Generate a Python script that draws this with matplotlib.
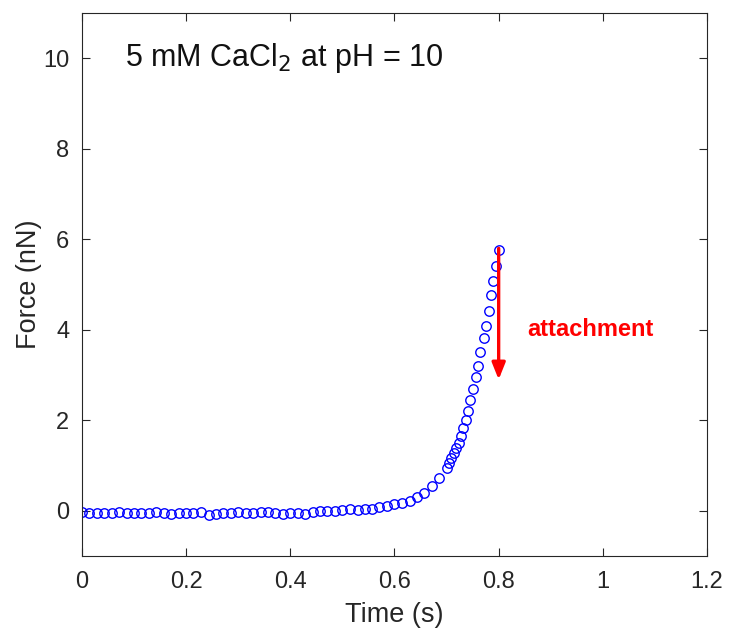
import matplotlib
matplotlib.use('Agg')
import matplotlib.pyplot as plt

plt.rcParams['font.family'] = ['Liberation Sans', 'DejaVu Sans']

# data
time_s = [0.000, 0.014, 0.029, 0.043, 0.057, 0.071, 0.086, 0.100, 0.114, 0.129,
          0.143, 0.157, 0.171, 0.186, 0.200, 0.214, 0.229, 0.243, 0.257, 0.271,
          0.286, 0.300, 0.314, 0.329, 0.343, 0.357,
          0.371, 0.386, 0.400, 0.414, 0.429, 0.443, 0.457, 0.471, 0.486, 0.500,
          0.514, 0.529, 0.543, 0.557, 0.571, 0.586, 0.600, 0.614, 0.629, 0.643,
          0.657, 0.672, 0.686, 0.700, 0.704, 0.709, 0.714, 0.719, 0.724, 0.728,
          0.732, 0.737, 0.742, 0.745, 0.751, 0.756, 0.760, 0.765, 0.771, 0.775,
          0.781, 0.785, 0.790, 0.794, 0.800]
force_nN = [-0.02, -0.04, -0.05, -0.04, -0.04, -0.03, -0.04, -0.04, -0.05, -0.04,
            -0.03, -0.04, -0.06, -0.05, -0.04, -0.04, -0.03, -0.10, -0.06, -0.04,
            -0.04, -0.03, -0.04, -0.05, -0.03, -0.02,
            -0.05, -0.07, -0.05, -0.05, -0.06, -0.03, -0.01, -0.01, 0.00, 0.01,
            0.04, 0.02, 0.03, 0.04, 0.09, 0.10, 0.15, 0.18, 0.21, 0.31,
            0.40, 0.54, 0.72, 0.94, 1.05, 1.16, 1.27, 1.38, 1.49, 1.65,
            1.82, 2.00, 2.21, 2.44, 2.69, 2.96, 3.20, 3.50, 3.81, 4.08,
            4.41, 4.76, 5.07, 5.40, 5.77]

arrow_x = 0.8
arrow_from = 5.8
arrow_to = 2.9

fig = plt.figure(figsize=(7.3, 6.37), dpi=100)
ax = fig.add_axes([0.1123, 0.127, 0.8562, 0.8526])

ax.plot(time_s, force_nN, 'o', mfc='none', mec='#0000ff', mew=1.0, ms=6.8)

ax.annotate('', xy=(arrow_x, arrow_to), xytext=(arrow_x, arrow_from),
            arrowprops=dict(arrowstyle='-|>,head_length=1.0,head_width=0.4',
                            color='#ff0000', lw=2.4, shrinkA=0, shrinkB=0))
ax.text(0.855, 4.0, 'attachment', color='#ff0000', fontsize=17,
        fontweight='bold', va='center', ha='left')
ax.text(0.083, 10.0, r'5 mM CaCl$_2$ at pH = 10', fontsize=22,
        va='center', ha='left', color='#111111')

ax.set_xlim(0, 1.2)
ax.set_ylim(-1, 11)
ax.set_xticks([0, 0.2, 0.4, 0.6, 0.8, 1, 1.2])
ax.set_xticklabels(['0', '0.2', '0.4', '0.6', '0.8', '1', '1.2'])
ax.set_yticks([0, 2, 4, 6, 8, 10])
ax.tick_params(direction='in', top=True, right=True, labelsize=17,
               colors='#262626', length=6, width=0.8)
ax.tick_params(axis='x', pad=11)
ax.tick_params(axis='y', pad=9)
for s in ax.spines.values():
    s.set_color('#262626')
    s.set_linewidth(0.8)

ax.set_xlabel('Time (s)', fontsize=19.5, color='#262626', labelpad=6)
ax.set_ylabel('Force (nN)', fontsize=19.5, color='#262626', labelpad=1)

plt.savefig('out.png', dpi=100)
